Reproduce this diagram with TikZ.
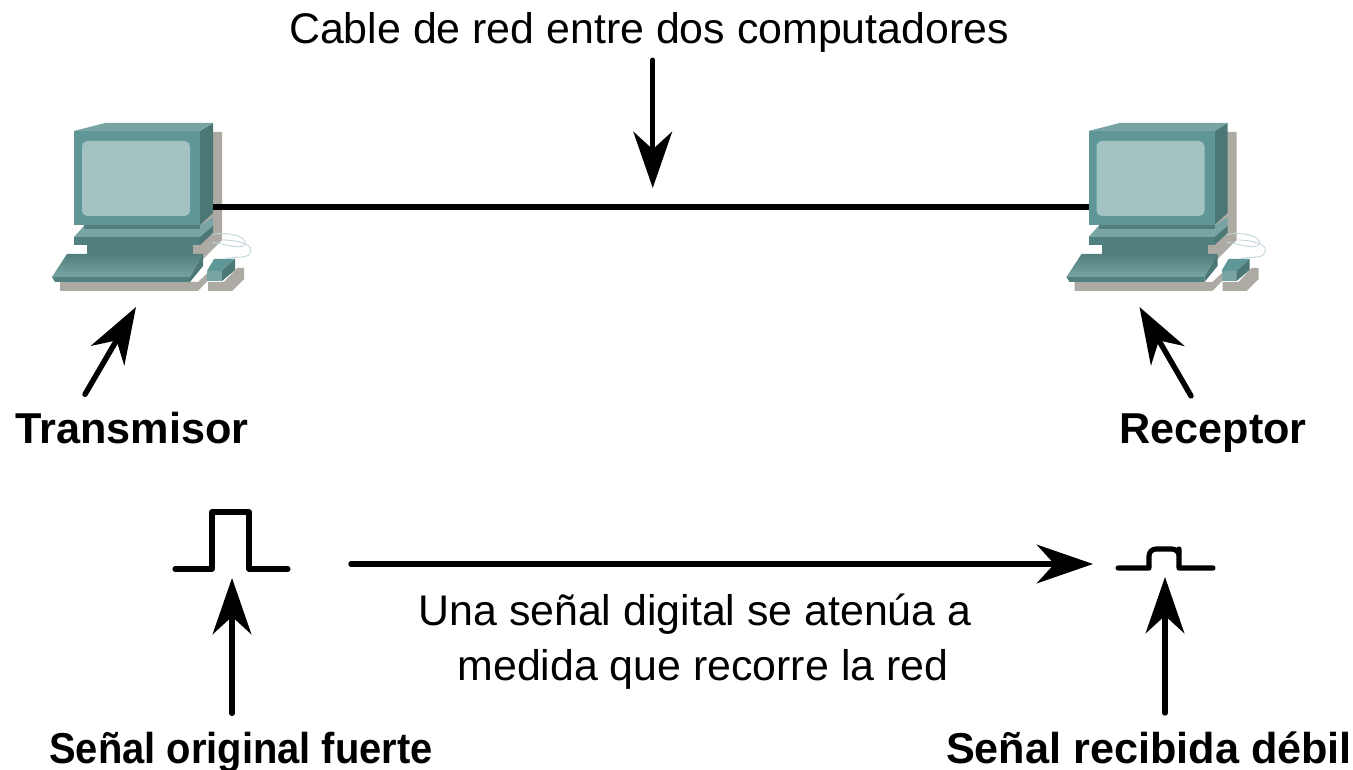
\documentclass[tikz,border=0pt]{standalone}
\usepackage{fontspec}
\setmainfont{Liberation Sans}
\usetikzlibrary{arrows.meta}
\definecolor{pcface}{HTML}{5F9696}
\definecolor{pcside}{HTML}{4B7775}
\definecolor{pcdark}{HTML}{527F7E}
\definecolor{pclight}{HTML}{78A4A4}
\definecolor{pcscreen}{HTML}{A3C3C2}
\definecolor{pcshadow}{HTML}{ADAAA4}
\definecolor{pcwire}{HTML}{BFD6D8}
\tikzset{
  bigarrow/.style={line width=3.1pt, line cap=round, -{Stealth[length=32pt, width=22pt, inset=10pt]}},
  wireline/.style={line width=3.6pt},
  pulseline/.style={line width=2.9pt, line cap=round, line join=round},
  plainlabel/.style={font=\fontsize{24.4}{31.4}\selectfont, align=center, inner sep=0pt},
  boldlabel/.style={font=\fontsize{24.6}{30}\selectfont\bfseries, inner sep=0pt},
  pics/computer/.style={code={
    \fill[pcshadow] (205,132) -- (222,132) -- (222,240) -- (200,262) -- (190,262) -- (190,240) -- cycle;
    \fill[pcshadow] (60,282) -- (198,282) -- (215,266) -- (216,272) -- (198,291) -- (60,291) -- cycle;
    \fill[pcshadow] (237,268) -- (244,268) -- (244,279) -- (232,291) -- (208,291) -- (208,282) -- (224,282) -- cycle;
    \draw[pcwire, line width=0.5pt] (205,236) .. controls (225,230) and (248,236) .. (245,244) .. controls (240,252) and (215,240) .. (212,243);
    \draw[pcwire, line width=0.5pt] (222,240) .. controls (240,240) and (255,245) .. (250,253) .. controls (247,260) and (232,255) .. (224,260);
    \fill[pclight] (84,226) -- (200,226) -- (213,217) -- (213,226) -- (200,237) -- (74,237) -- cycle;
    \fill[pcface!85!black] (74,237) -- (200,237) -- (200,245) -- (74,245) -- cycle;
    \fill[pcside] (200,237) -- (213,226) -- (213,233) -- (200,245) -- cycle;
    \fill[pcdark] (87,245) rectangle (193,254);
    \fill[pcside] (200,131) -- (213,123) -- (213,213) -- (200,225) -- cycle;
    \fill[pclight] (74,131) -- (105,123) -- (213,123) -- (200,131) -- cycle;
    \fill[pcface] (74,131) rectangle (200,225);
    \fill[pcdark] (84,225) rectangle (200,229);
    \fill[pcscreen, rounded corners=3pt] (82,141) rectangle (190,216);
    \shade[top color=pcdark, bottom color=pclight] (67,254) -- (203,254) -- (190,277) -- (52,277) -- cycle;
    \fill[pcface!85!black] (52,277) -- (190,277) -- (190,282) -- (55,282) -- cycle;
    \fill[pcside] (190,277) -- (203,254) -- (203,266) -- (190,282) -- cycle;
    \fill[pcface] (214,259) -- (235,259) -- (222,271) -- (207,271) -- cycle;
    \fill[pclight] (207,271) -- (222,271) -- (222,281) -- (207,281) -- cycle;
    \fill[pcside] (222,271) -- (235,259) -- (235,270) -- (222,281) -- cycle;
    \coordinate (-foot) at (130,307);
    \coordinate (-portl) at (74,207);
    \coordinate (-portr) at (213,207);
  }}
}
\begin{document}
\begin{tikzpicture}[x=0.02cm, y=-0.02cm]
\useasboundingbox (0,0) rectangle (1353,770);
\fill[white] (0,0) rectangle (1353,770);

\pic (tx) at (0,0) {computer};
\pic (rx) at (1014.5,0) {computer};

\node[plainlabel, anchor=base] (lblcable) at (649,44) {Cable de red entre dos computadores};
\node[boldlabel, anchor=base] (lbltx) at (132,443) {Transmisor};
\node[boldlabel, anchor=base] (lblrx) at (1213,443) {Receptor};
\node[boldlabel, anchor=base] (lblstrong) at (241,763) {\scalebox{0.923}[1]{Señal original fuerte}};
\node[boldlabel, anchor=base] (lblweak) at (1149,763) {Señal recibida débil};
\node[plainlabel] (lblatt) at (695,642) {Una señal digital se atenúa a\\\hspace*{9pt}medida que recorre la red};

\coordinate (strongtop) at (232,578);
\coordinate (weaktop) at (1165,577);
\coordinate (attfrom) at (351,564);
\coordinate (attto) at (1093,564);

\draw[wireline] (tx-portr) -- (rx-portl) coordinate[midway] (cablemid);
\draw[bigarrow] ([xshift=0.04cm, yshift=-0.14cm]lblcable.south -| cablemid) -- ([xshift=0.04cm, yshift=0.38cm]cablemid);
\draw[bigarrow] ([xshift=-0.94cm, yshift=0.34cm]lbltx.north) -- ([xshift=0.12cm]tx-foot);
\draw[bigarrow] ([xshift=-0.44cm, yshift=0.34cm]lblrx.north) -- ([xshift=-0.1cm]rx-foot);
\draw[bigarrow] (attfrom) -- (attto);
\draw[bigarrow] ([yshift=0.36cm]lblstrong.north -| strongtop) -- (strongtop);
\draw[bigarrow] ([yshift=0.36cm]lblweak.north -| weaktop) -- (weaktop);

\draw[pulseline] (175,569) -- (212,569) -- (212,512) -- (249,512) -- (249,569) -- (288,569);
\draw[pulseline] (1118,568) -- (1149,568) -- (1149,556) [rounded corners=4pt] -- (1149,549) -- (1179,549) -- (1179,556) [sharp corners] -- (1179,568) -- (1213,568);
\end{tikzpicture}
\end{document}
